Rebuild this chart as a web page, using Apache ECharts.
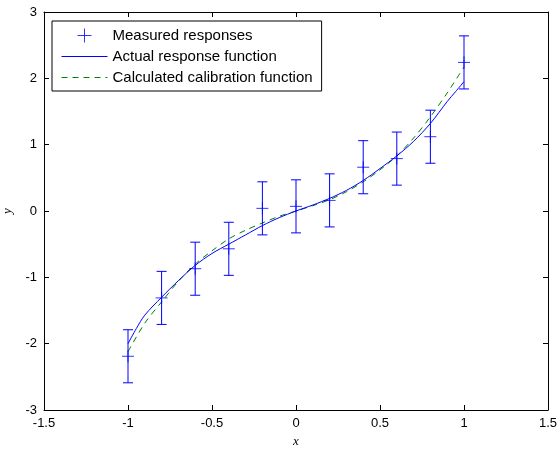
<!DOCTYPE html>
<html>
<head>
<meta charset="utf-8">
<script src="https://cdn.jsdelivr.net/npm/echarts@6/dist/echarts.min.js"></script>
<style>
  html, body { margin: 0; padding: 0; background: #fff; }
  #chart { width: 559px; height: 450px; }
</style>
</head>
<body>
<div id="chart"></div>
<script>
// measured responses with error bars
var measuredX = [-1, -0.8, -0.6, -0.4, -0.2, 0, 0.2, 0.4, 0.6, 0.8, 1]
var measuredY = [-2.19, -1.31, -0.87, -0.57, 0.04, 0.07, 0.16, 0.66, 0.79, 1.12, 2.24]
var measuredErr = [0.4, 0.4, 0.4, 0.4, 0.4, 0.4, 0.4, 0.4, 0.4, 0.4, 0.4]

// actual response function
var actualX = [-1, -0.95, -0.9, -0.8, -0.7, -0.6, -0.5, -0.4, -0.3, -0.2, -0.1, 0,
  0.1, 0.2, 0.3, 0.4, 0.5, 0.6, 0.7, 0.8, 0.9, 0.95, 1]
var actualY = [-2.0, -1.77, -1.57, -1.30, -1.05, -0.82, -0.64, -0.50, -0.36, -0.22, -0.10, 0,
  0.09, 0.19, 0.31, 0.46, 0.64, 0.83, 1.05, 1.32, 1.65, 1.80, 1.95]

// calculated calibration function
var calibX = [-1, -0.9, -0.8, -0.7, -0.6, -0.5, -0.4, -0.3, -0.2, -0.1, 0,
  0.1, 0.2, 0.3, 0.4, 0.5, 0.6, 0.7, 0.8, 0.9, 1]
var calibY = [-2.12, -1.69, -1.37, -1.06, -0.80, -0.60, -0.42, -0.29, -0.18, -0.08, 0,
  0.08, 0.17, 0.29, 0.44, 0.62, 0.83, 1.10, 1.42, 1.78, 2.17]

var legendNames = ['Measured responses', 'Actual response function', 'Calculated calibration function']

var blue = '#0000ff'
var green = '#008000'
var font = 'Liberation Sans, Arial, sans-serif'
var serif = 'Liberation Serif, Times New Roman, serif'

var zip = (xs, ys) => xs.map((x, i) => [x, ys[i]])

var errData = measuredX.map((x, i) => [x, measuredY[i] - measuredErr[i], measuredY[i] + measuredErr[i]])

var axisBase = {
  type: 'value',
  axisLine: { show: true, onZero: false, lineStyle: { color: '#000', width: 1 } },
  axisTick: { show: true, inside: true, length: 5, lineStyle: { color: '#000' } },
  splitLine: { show: false },
  axisLabel: { color: '#000', fontFamily: font, fontSize: 13 }
}

var chart = echarts.init(document.getElementById('chart'))

chart.setOption({
  animation: false,
  backgroundColor: '#fff',
  grid: { left: 44, right: 11, top: 12, bottom: 40, containLabel: false, outerBoundsMode: 'none' },
  legend: {
    orient: 'vertical',
    left: 52,
    top: 21,
    data: [
      { name: legendNames[0], itemStyle: { color: 'rgba(0,0,0,0)', borderColor: blue, borderWidth: 1 } },
      { name: legendNames[1], itemStyle: { opacity: 0 }, lineStyle: { color: blue, width: 1, type: 'solid' } },
      { name: legendNames[2], itemStyle: { opacity: 0 }, lineStyle: { color: green, width: 1, type: [6, 5] } }
    ],
    backgroundColor: '#fff',
    borderColor: '#000',
    borderWidth: 1,
    padding: [7, 9, 6, 9],
    itemWidth: 46,
    itemHeight: 14,
    itemGap: 6,
    textStyle: { color: '#000', fontFamily: font, fontSize: 15 }
  },
  xAxis: [
    Object.assign({}, axisBase, {
      min: -1.5, max: 1.5, interval: 0.5,
      axisLabel: Object.assign({}, axisBase.axisLabel, { margin: 7 }),
      name: 'x',
      nameLocation: 'middle',
      nameGap: 25,
      nameTextStyle: { fontFamily: serif, fontStyle: 'italic', fontSize: 13, color: '#000' }
    }),
    Object.assign({}, axisBase, {
      min: -1.5, max: 1.5, interval: 0.5,
      position: 'top',
      axisLabel: { show: false }
    })
  ],
  yAxis: [
    Object.assign({}, axisBase, {
      min: -3, max: 3, interval: 1,
      axisLabel: Object.assign({}, axisBase.axisLabel, { margin: 7 }),
      name: 'y',
      nameLocation: 'middle',
      nameGap: 26,
      nameRotate: 90,
      nameTextStyle: { fontFamily: serif, fontStyle: 'italic', fontSize: 13, color: '#000' }
    }),
    Object.assign({}, axisBase, {
      min: -3, max: 3, interval: 1,
      position: 'right',
      axisLabel: { show: false }
    })
  ],
  series: [
    {
      name: 'errorbars',
      type: 'custom',
      data: errData,
      z: 3,
      renderItem: (params, api) => {
        var x = api.value(0)
        var lo = api.coord([x, api.value(1)])
        var hi = api.coord([x, api.value(2)])
        var cap = 5
        var style = { stroke: blue, lineWidth: 1 }
        return {
          type: 'group',
          children: [
            { type: 'line', shape: { x1: lo[0], y1: lo[1], x2: hi[0], y2: hi[1] }, style: style },
            { type: 'line', shape: { x1: lo[0] - cap, y1: lo[1], x2: lo[0] + cap, y2: lo[1] }, style: style },
            { type: 'line', shape: { x1: hi[0] - cap, y1: hi[1], x2: hi[0] + cap, y2: hi[1] }, style: style }
          ]
        }
      }
    },
    {
      name: legendNames[0],
      type: 'scatter',
      data: zip(measuredX, measuredY),
      symbol: 'path://M0,6L12,6M6,0L6,12',
      symbolSize: 12,
      z: 4,
      itemStyle: { color: 'rgba(0,0,0,0)', borderColor: blue, borderWidth: 1 }
    },
    {
      name: legendNames[1],
      type: 'line',
      data: zip(actualX, actualY),
      smooth: 0.3,
      showSymbol: false,
      symbol: 'none',
      z: 3,
      lineStyle: { color: blue, width: 1 },
      itemStyle: { color: blue }
    },
    {
      name: legendNames[2],
      type: 'line',
      data: zip(calibX, calibY),
      smooth: 0.3,
      showSymbol: false,
      symbol: 'none',
      z: 2,
      lineStyle: { color: green, width: 1, type: [6, 5] },
      itemStyle: { color: green }
    }
  ]
})
</script>
</body>
</html>
